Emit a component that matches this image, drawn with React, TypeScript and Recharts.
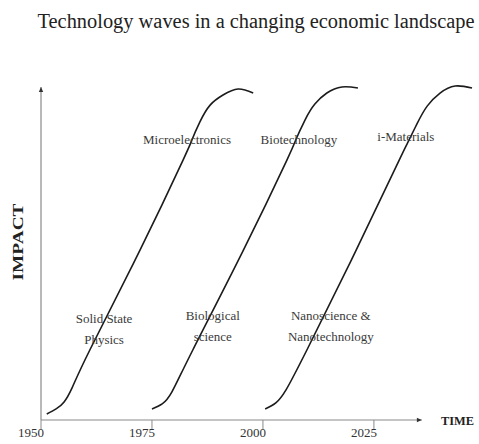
import React from 'react';
import { LineChart, Line, XAxis, YAxis, ReferenceLine, ReferenceDot } from 'recharts';

// Three technology waves (year, impact 0-100)
const wave1Years = [1951.3, 1953.4, 1955.2, 1957.0, 1961.0, 1972.3, 1982.0, 1984.0, 1985.8, 1988.1, 1991.0, 1994.4, 1997.8];
const wave1Impact = [1.8, 3.3, 5.4, 9.6, 20.9, 50.7, 77.6, 83.6, 89.0, 94.0, 97.0, 98.8, 97.6];

const wave2Years = [1975.0, 1977.3, 1979.5, 1984.2, 1995.6, 2005.4, 2007.2, 2009.5, 2011.7, 2014.4, 2017.8, 2021.4];
const wave2Impact = [3.3, 4.8, 8.4, 20.9, 50.7, 77.6, 83.0, 89.6, 94.3, 97.6, 99.4, 99.1];

const wave3Years = [2000.5, 2002.9, 2005.2, 2009.9, 2021.0, 2030.7, 2032.7, 2034.7, 2037.0, 2039.9, 2043.3, 2047.1];
const wave3Impact = [3.3, 5.1, 9.0, 20.9, 50.7, 77.6, 83.0, 88.4, 93.7, 97.6, 99.7, 99.1];

const tickYears = [1950, 1975, 2000, 2025];

// annotations: text lines and where they sit
const noteLines = [
  ['Microelectronics'],
  ['Biotechnology'],
  ['i-Materials'],
  ['Solid State', 'Physics'],
  ['Biological', 'science'],
  ['Nanoscience &', 'Nanotechnology'],
];
const noteYears = [1982.9, 2008.1, 2032.2, 1964.2, 1988.7, 2015.3];
const noteImpact = [83.6, 83.6, 84.5, 27.3, 28.1, 28.1];

const zip = (xs: number[], ys: number[]) => xs.map((x, i) => ({ x, y: ys[i] }));
const waves = [zip(wave1Years, wave1Impact), zip(wave2Years, wave2Impact), zip(wave3Years, wave3Impact)];

const axisColor = '#8a8a8a';
const curveColor = '#1c1c1c';
const serif = '"Liberation Serif", "Times New Roman", Times, serif';

const ArrowLine = (props: any) => {
  const { x1, y1, x2, y2 } = props;
  const a = Math.atan2(y2 - y1, x2 - x1);
  const s = 5;
  const p1 = `${x2},${y2}`;
  const p2 = `${x2 - s * Math.cos(a) + 2.2 * Math.sin(a)},${y2 - s * Math.sin(a) - 2.2 * Math.cos(a)}`;
  const p3 = `${x2 - s * Math.cos(a) - 2.2 * Math.sin(a)},${y2 - s * Math.sin(a) + 2.2 * Math.cos(a)}`;
  return (
    <g>
      <line x1={x1} y1={y1} x2={x2} y2={y2} stroke={axisColor} strokeWidth={1.2} />
      <polygon points={`${p1} ${p2} ${p3}`} fill="#333" />
    </g>
  );
};

const YearTick = (props: any) => {
  const { x, payload } = props;
  return (
    <text x={x - 10} y={437} textAnchor="middle" fontFamily={serif} fontSize={13} fill="#333">
      {payload.value}
    </text>
  );
};

const makeNote = (lines: string[]) => (props: any) => {
  const vb = props.viewBox || {};
  const cx = vb.x + (vb.width || 0) / 2;
  const cy = vb.y + (vb.height || 0) / 2;
  const gap = 21;
  const start = cy - ((lines.length - 1) * gap) / 2;
  return (
    <g>
      {lines.map((t, i) => (
        <text
          key={i}
          x={cx}
          y={start + i * gap}
          textAnchor="middle"
          dominantBaseline="central"
          fontFamily={serif}
          fontSize={13}
          fill="#3a3a3a"
        >
          {t}
        </text>
      ))}
    </g>
  );
};

const App = () => {
  return (
    <div style={{ position: 'absolute', left: 0, top: 0, width: 479, height: 444, background: '#fff' }}>
      <LineChart width={479} height={444} margin={{ top: 85, right: 3, left: 41, bottom: 0 }}>
        <XAxis
          dataKey="x"
          type="number"
          domain={[1950, 2048]}
          ticks={tickYears}
          axisLine={false}
          tickSize={10}
          tickLine={{ stroke: axisColor }}
          tick={<YearTick />}
          height={24}
          allowDataOverflow
        />
        <YAxis hide type="number" domain={[0, 100]} allowDataOverflow />
        <ReferenceLine segment={[{ x: 1950, y: 0 }, { x: 2035.8, y: 0 }]} shape={ArrowLine} />
        <ReferenceLine segment={[{ x: 1950, y: 0 }, { x: 1950, y: 99.4 }]} shape={ArrowLine} />
        {waves.map((d, i) => (
          <Line
            key={i}
            data={d}
            dataKey="y"
            type="natural"
            stroke={curveColor}
            strokeWidth={1.6}
            dot={false}
            isAnimationActive={false}
          />
        ))}
        {noteLines.map((lines, i) => (
          <ReferenceDot
            key={'n' + i}
            x={noteYears[i]}
            y={noteImpact[i]}
            r={1}
            fill="none"
            stroke="none"
            label={makeNote(lines)}
          />
        ))}
      </LineChart>
      <svg width={479} height={444} style={{ position: 'absolute', left: 0, top: 0, pointerEvents: 'none' }}>
        <text x={256} y={28} textAnchor="middle" fontFamily={serif} fontSize={20} fill="#222" textLength={437} lengthAdjust="spacingAndGlyphs">
          Technology waves in a changing economic landscape
        </text>
        <text
          transform="translate(23,242) rotate(-90)"
          textAnchor="middle"
          fontFamily={serif}
          fontWeight="bold"
          fontSize={15}
          fill="#222"
          textLength={77}
          lengthAdjust="spacingAndGlyphs"
        >
          IMPACT
        </text>
        <text x={441} y={425} fontFamily={serif} fontWeight="bold" fontSize={13.5} fill="#222" textLength={33} lengthAdjust="spacingAndGlyphs">
          TIME
        </text>
      </svg>
    </div>
  );
};

export default App;
